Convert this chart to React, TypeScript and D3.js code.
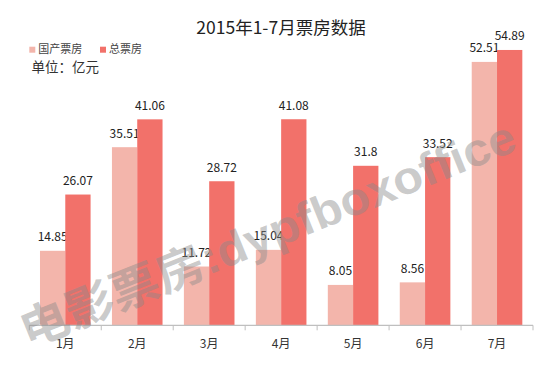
import React from 'react'
import * as d3 from 'd3'

const months = ['1月', '2月', '3月', '4月', '5月', '6月', '7月']
const domestic = [14.85, 35.51, 11.72, 15.04, 8.05, 8.56, 52.51]
const total = [26.07, 41.06, 28.72, 41.08, 31.8, 33.52, 54.89]
const seriesNames = ['国产票房', '总票房']
const colors = ['#F3B5AB', '#F2716A']

const W = 538, H = 368
const font = '"Noto Sans CJK SC", "Noto Sans", sans-serif'

export default function App() {
  // plot area
  const left = 29.3, right = 533, base = 325.3
  const x = d3.scaleBand().domain(months).range([left, right]).paddingInner(0).paddingOuter(0)
  const y = d3.scaleLinear().domain([0, 60]).range([base, base - 60 * 5.016])
  const barW = 25.3

  const series = [domestic, total]

  return (
    <svg width={W} height={H} style={{ position: 'absolute', left: 0, top: 0, background: '#fff' }} fontFamily={font}>
      <rect width={W} height={H} fill="#fff" />
      {/* title */}
      <text x={281} y={34} textAnchor="middle" fontSize={17.5} fill="#222">2015年1-7月票房数据</text>

      {/* legend */}
      {seriesNames.map((n, i) => (
        <g key={n} transform={`translate(${29.3 + i * 70.7},46.7)`}>
          <rect width={6} height={6} fill={colors[i]} />
          <text x={9} y={6.5} fontSize={11} fill="#444">{n}</text>
        </g>
      ))}
      <text x={31.5} y={72} fontSize={13.5} fill="#333">单位：亿元</text>

      {/* bars */}
      {series.map((vals, si) => (
        <g key={si}>
          {vals.map((v, i) => {
            const cx = x(months[i])! + x.bandwidth() / 2
            const bx = si === 0 ? cx - barW : cx
            return (
              <g key={i}>
                <rect x={bx} y={y(v)} width={barW} height={base - y(v)} fill={colors[si]} />
                <text x={bx + barW / 2} y={y(v) - 9.5} textAnchor="middle" fontSize={12} fill="#222">{v}</text>
              </g>
            )
          })}
        </g>
      ))}

      {/* x axis */}
      <line x1={left} x2={right} y1={base} y2={base} stroke="#bfbfbf" strokeWidth={1.2} />
      {d3.range(months.length + 1).map(i => {
        const tx = left + i * x.step()
        return <line key={i} x1={tx} x2={tx} y1={base} y2={base + 5} stroke="#bfbfbf" />
      })}
      {months.map(m => (
        <text key={m} x={x(m)! + x.bandwidth() / 2} y={348} textAnchor="middle" fontSize={12} fill="#333">{m}</text>
      ))}

      {/* watermark */}
      <text transform="translate(28,348) rotate(-22)" fontSize={46} fontWeight="bold"
        fill="#8a8a8a" fillOpacity={0.45} textLength={530} lengthAdjust="spacingAndGlyphs"
        fontFamily='"Liberation Sans", "Noto Sans CJK SC", sans-serif'>电影票房:dypfboxoffice</text>
    </svg>
  )
}
